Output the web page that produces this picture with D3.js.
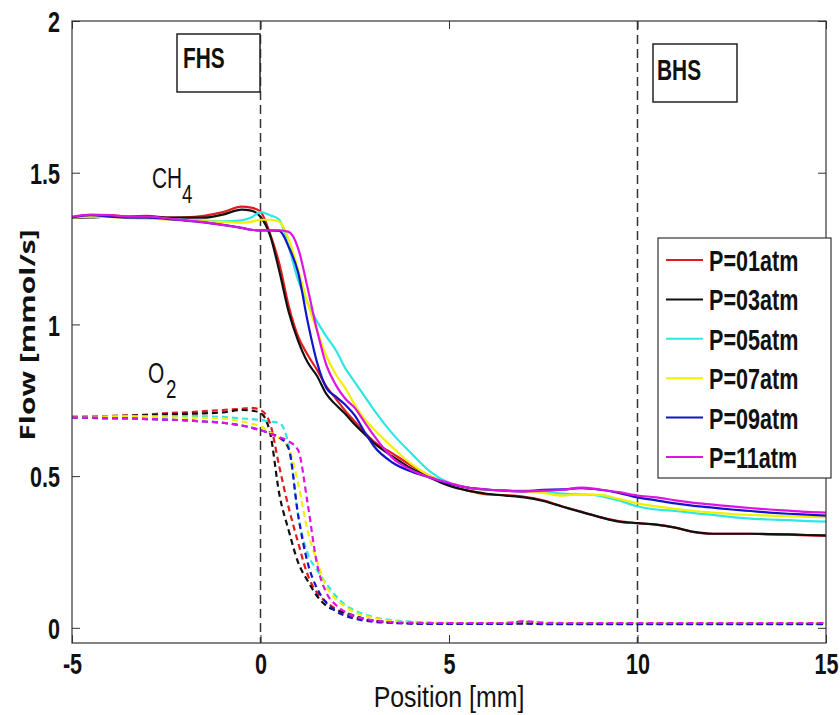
<!DOCTYPE html>
<html><head><meta charset="utf-8">
<script src="https://cdn.jsdelivr.net/npm/d3@7"></script>
<style>body{margin:0;background:#fff}</style>
</head><body><svg id="c" width="840" height="715"></svg>
<script>
// ---------- data ----------
const positions = [-5,-4.5,-4,-3.5,-3,-2.5,-2,-1.5,-1,-0.5,-0.25,0,0.25,0.5,0.75,1,1.25,1.5,1.75,2,2.25,2.5,2.75,3,3.5,4,4.5,5,5.5,6,6.5,7,7.5,8,8.5,9,9.5,10,10.5,11,11.5,12,12.5,13,13.5,14,14.5,15];
const seriesNames = ["P=01atm","P=03atm","P=05atm","P=07atm","P=09atm","P=11atm"];
const seriesColors = ["#e41a1c","#111111","#2ee6e6","#f0f000","#1414c8","#e014e0"];

const ch4P01 = [1.352,1.355,1.360,1.356,1.358,1.352,1.353,1.358,1.370,1.388,1.385,1.372,1.300,1.200,1.060,0.960,0.900,0.850,0.795,0.755,0.715,0.680,0.645,0.615,0.575,0.535,0.500,0.470,0.452,0.440,0.437,0.432,0.420,0.400,0.383,0.365,0.352,0.345,0.340,0.330,0.315,0.310,0.310,0.310,0.308,0.307,0.305,0.303];
const ch4P03 = [1.352,1.353,1.355,1.354,1.355,1.352,1.352,1.352,1.362,1.378,1.375,1.355,1.295,1.175,1.040,0.945,0.875,0.830,0.770,0.735,0.705,0.670,0.640,0.610,0.565,0.525,0.495,0.468,0.452,0.442,0.436,0.430,0.418,0.400,0.382,0.365,0.350,0.345,0.340,0.330,0.316,0.310,0.310,0.310,0.309,0.308,0.306,0.305];
const ch4P05 = [1.352,1.356,1.355,1.352,1.350,1.348,1.345,1.342,1.340,1.343,1.352,1.370,1.360,1.345,1.255,1.145,1.070,1.010,0.960,0.915,0.855,0.810,0.765,0.720,0.640,0.575,0.515,0.478,0.462,0.455,0.452,0.452,0.450,0.442,0.440,0.435,0.420,0.400,0.390,0.385,0.378,0.372,0.365,0.360,0.357,0.355,0.352,0.350];
const ch4P07 = [1.352,1.355,1.354,1.350,1.348,1.346,1.343,1.340,1.338,1.335,1.338,1.345,1.345,1.338,1.280,1.180,1.070,0.980,0.895,0.835,0.790,0.735,0.690,0.655,0.595,0.540,0.500,0.476,0.462,0.455,0.452,0.450,0.445,0.436,0.440,0.438,0.425,0.410,0.400,0.392,0.385,0.380,0.375,0.372,0.370,0.368,0.366,0.365];
const ch4P09 = [1.352,1.360,1.355,1.352,1.352,1.348,1.342,1.336,1.328,1.318,1.312,1.310,1.310,1.308,1.255,1.170,1.010,0.875,0.790,0.762,0.735,0.700,0.648,0.600,0.545,0.515,0.495,0.475,0.462,0.456,0.452,0.450,0.455,0.456,0.460,0.455,0.445,0.430,0.420,0.410,0.402,0.396,0.390,0.385,0.380,0.376,0.373,0.370];
const ch4P11 = [1.355,1.362,1.360,1.355,1.355,1.350,1.343,1.337,1.328,1.318,1.312,1.310,1.310,1.310,1.305,1.250,1.120,0.980,0.865,0.800,0.755,0.725,0.680,0.635,0.560,0.520,0.495,0.478,0.462,0.456,0.452,0.450,0.452,0.455,0.462,0.456,0.447,0.436,0.430,0.420,0.412,0.406,0.400,0.395,0.390,0.386,0.382,0.380];

const o2P01 = [0.695,0.695,0.698,0.700,0.703,0.708,0.710,0.714,0.718,0.722,0.725,0.718,0.675,0.530,0.395,0.280,0.175,0.115,0.085,0.062,0.046,0.036,0.028,0.023,0.018,0.016,0.015,0.015,0.015,0.015,0.016,0.020,0.016,0.015,0.015,0.015,0.015,0.015,0.014,0.014,0.014,0.014,0.014,0.014,0.014,0.014,0.014,0.014];
const o2P03 = [0.695,0.696,0.698,0.699,0.701,0.703,0.705,0.707,0.710,0.718,0.716,0.708,0.645,0.440,0.320,0.215,0.155,0.105,0.072,0.058,0.050,0.040,0.030,0.024,0.018,0.015,0.014,0.014,0.014,0.014,0.014,0.015,0.014,0.013,0.013,0.013,0.013,0.013,0.013,0.013,0.013,0.013,0.013,0.013,0.013,0.013,0.013,0.013];
const o2P05 = [0.695,0.696,0.697,0.698,0.698,0.698,0.698,0.697,0.695,0.690,0.688,0.685,0.680,0.675,0.600,0.370,0.245,0.190,0.145,0.105,0.075,0.057,0.045,0.035,0.025,0.020,0.017,0.016,0.015,0.015,0.015,0.016,0.015,0.015,0.015,0.015,0.015,0.015,0.015,0.015,0.015,0.015,0.015,0.015,0.015,0.015,0.015,0.015];
const o2P07 = [0.695,0.695,0.696,0.696,0.695,0.694,0.693,0.692,0.690,0.680,0.673,0.665,0.645,0.625,0.590,0.475,0.320,0.220,0.135,0.095,0.070,0.050,0.040,0.032,0.022,0.018,0.016,0.015,0.015,0.015,0.015,0.015,0.015,0.015,0.014,0.014,0.014,0.014,0.014,0.014,0.014,0.014,0.014,0.014,0.014,0.014,0.014,0.014];
const o2P09 = [0.693,0.692,0.690,0.690,0.688,0.686,0.684,0.680,0.676,0.667,0.660,0.652,0.640,0.628,0.590,0.370,0.215,0.130,0.082,0.055,0.040,0.030,0.024,0.020,0.016,0.014,0.013,0.013,0.013,0.013,0.013,0.014,0.012,0.012,0.012,0.012,0.012,0.012,0.012,0.012,0.012,0.012,0.012,0.012,0.012,0.012,0.012,0.012];
const o2P11 = [0.693,0.693,0.691,0.690,0.688,0.686,0.684,0.680,0.676,0.667,0.660,0.652,0.640,0.628,0.615,0.585,0.410,0.210,0.115,0.075,0.052,0.038,0.030,0.024,0.018,0.017,0.016,0.016,0.016,0.016,0.016,0.022,0.017,0.016,0.016,0.016,0.016,0.016,0.016,0.016,0.016,0.016,0.016,0.016,0.016,0.016,0.016,0.016];

const ch4Series = [ch4P01, ch4P03, ch4P05, ch4P07, ch4P09, ch4P11];
const o2Series  = [o2P01, o2P03, o2P05, o2P07, o2P09, o2P11];

const xTicks = [-5, 0, 5, 10, 15];
const xTickLabels = ["-5","0","5","10","15"];
const yTicks = [0, 0.5, 1, 1.5, 2];
const yTickLabels = ["0","0.5","1","1.5","2"];
const markerPositions = [0, 10];
const zoneLabels = ["FHS", "BHS"];
const xTitle = "Position [mm]";
const yTitle = "Flow [mmol/s]";

// ---------- drawing ----------
const FONT = "'Liberation Sans', Arial, Helvetica, sans-serif";
const SX = 0.72;
const svg = d3.select("#c");
const L = 72, R = 826, T = 21, B = 643;
const x = d3.scaleLinear().domain([-5, 15]).range([L, R]);
const y = d3.scaleLinear().domain([-0.05, 2]).range([B, T]);

svg.append("rect").attr("width",840).attr("height",715).attr("fill","#fff");

function label(parent, px, py, text, size, weight, anchor, sx, family) {
  const g = parent.append("g").attr("transform", `translate(${px},${py}) scale(${sx},1)`);
  return g.append("text").attr("x",0).attr("y",0)
    .attr("font-family", family || FONT).attr("font-size", size)
    .attr("font-weight", weight).attr("text-anchor", anchor).attr("fill","#111").text(text);
}

svg.append("defs").append("clipPath").attr("id","clip")
  .append("rect").attr("x",L).attr("y",T).attr("width",R-L).attr("height",B-T);

// marker dashed lines
svg.append("g").selectAll("line").data(markerPositions).join("line")
  .attr("x1", d => x(d)).attr("x2", d => x(d)).attr("y1", T).attr("y2", B)
  .attr("stroke", "#333").attr("stroke-width", 1.5).attr("stroke-dasharray", "9,5");

// series
const lineGen = d3.line().x((d,i) => x(positions[i])).y(d => y(d)).curve(d3.curveMonotoneX);
const plot = svg.append("g").attr("clip-path","url(#clip)");
ch4Series.forEach((s, i) => {
  plot.append("path").attr("d", lineGen(s)).attr("fill","none")
    .attr("stroke", seriesColors[i]).attr("stroke-width", 2.2).attr("stroke-linejoin","round");
});
o2Series.forEach((s, i) => {
  plot.append("path").attr("d", lineGen(s)).attr("fill","none")
    .attr("stroke", seriesColors[i]).attr("stroke-width", 2.2).attr("stroke-dasharray","6,4");
});

// frame
svg.append("rect").attr("x",L).attr("y",T).attr("width",R-L).attr("height",B-T)
  .attr("fill","none").attr("stroke","#333").attr("stroke-width",1.2);

// axes
const axB = svg.append("g").attr("transform",`translate(0,${B})`)
  .call(d3.axisBottom(x).tickValues(xTicks).tickSize(-8).tickSizeOuter(0)
    .tickFormat((d,i) => xTickLabels[i]));
axB.select(".domain").remove();
axB.selectAll("line").attr("stroke","#333");
axB.selectAll("text").attr("font-family",FONT).attr("font-size",30).attr("font-weight","bold")
  .attr("fill","#111").attr("y",31).attr("dy",0).attr("transform",`scale(${SX},1)`);

const axL = svg.append("g").attr("transform",`translate(${L},0)`)
  .call(d3.axisLeft(y).tickValues(yTicks).tickSize(-8).tickSizeOuter(0)
    .tickFormat((d,i) => yTickLabels[i]));
axL.select(".domain").remove();
axL.selectAll("line").attr("stroke","#333");
axL.selectAll("text").attr("font-family",FONT).attr("font-size",30).attr("font-weight","bold")
  .attr("fill","#111").attr("x",-12/SX).attr("dy","0.36em").attr("transform",`scale(${SX},1)`);

const axT = svg.append("g").attr("transform",`translate(0,${T})`)
  .call(d3.axisTop(x).tickValues(xTicks).tickSize(-8).tickSizeOuter(0).tickFormat(""));
axT.select(".domain").remove(); axT.selectAll("line").attr("stroke","#333");
const axR = svg.append("g").attr("transform",`translate(${R},0)`)
  .call(d3.axisRight(y).tickValues(yTicks).tickSize(-8).tickSizeOuter(0).tickFormat(""));
axR.select(".domain").remove(); axR.selectAll("line").attr("stroke","#333");

// zone boxes
const zoneBoxes = [{x0:177, y0:34, w:83, h:58, tx:183, ty:68},
                   {x0:653, y0:44, w:84, h:58, tx:657, ty:80}];
zoneBoxes.forEach((b, i) => {
  svg.append("rect").attr("x",b.x0).attr("y",b.y0).attr("width",b.w).attr("height",b.h)
    .attr("fill","#fff").attr("stroke","#222").attr("stroke-width",1.5);
  label(svg, b.tx, b.ty, zoneLabels[i], 29, "bold", "start", SX);
});

// species labels
label(svg, 152, 188, "CH", 29, "normal", "start", SX);
label(svg, 182, 203, "4", 26, "normal", "start", SX);
label(svg, 148, 383, "O", 29, "normal", "start", SX);
label(svg, 166, 398, "2", 26, "normal", "start", SX);

// legend
const lg = svg.append("g");
lg.append("rect").attr("x",658).attr("y",238).attr("width",173).attr("height",240)
  .attr("fill","#fff").attr("stroke","#333").attr("stroke-width",1.2);
seriesNames.forEach((n, i) => {
  const ly = 260 + i * 39.4;
  lg.append("line").attr("x1",666).attr("x2",703).attr("y1",ly).attr("y2",ly)
    .attr("stroke", seriesColors[i]).attr("stroke-width",2);
  label(lg, 709, ly + 11, n, 30, "bold", "start", SX);
});

// axis titles
label(svg, 449, 707, xTitle, 30, "normal", "middle", 0.83);
const yt = svg.append("g").attr("transform","translate(35,335) scale(0.72,1) rotate(-90)");
yt.append("text").attr("text-anchor","middle").attr("font-family","'Open Sans', 'DejaVu Sans', sans-serif")
  .attr("font-size",30).attr("font-weight","bold").attr("fill","#111").text(yTitle);
</script>
</body></html>
